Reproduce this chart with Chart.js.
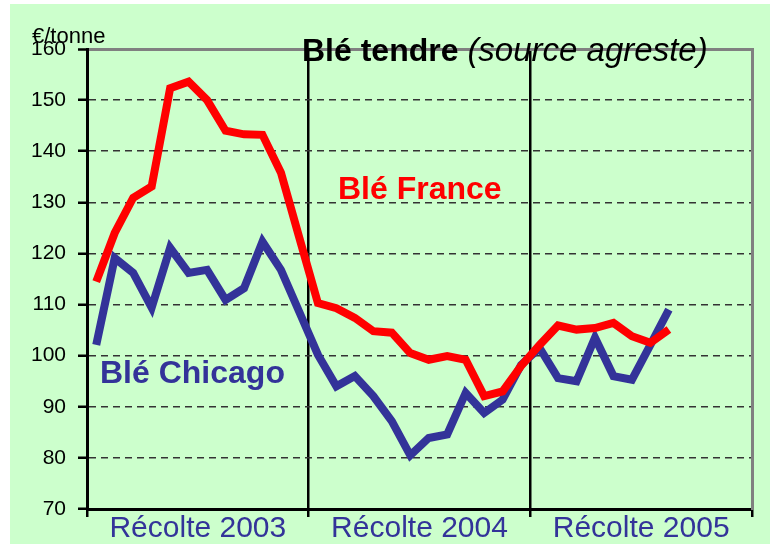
<!DOCTYPE html>
<html>
<head>
<meta charset="utf-8">
<script src="https://cdn.jsdelivr.net/npm/chart.js@4.4.1/dist/chart.umd.min.js"></script>
<style>
    body { margin: 0; background: #ffffff; }
    #bg { position: absolute; left: 10px; top: 4px; width: 760px; height: 540px; background: #CCFFCC; }
    #wheatChart { position: absolute; left: 0; top: 0; }
</style>
</head>
<body>
<div id="bg"></div>
<canvas id="wheatChart" width="774" height="544"></canvas>
<script>
// campagnes (juillet -> juin)
const harvests = ['Récolte 2003', 'Récolte 2004', 'Récolte 2005'];
const months = ['juil.', 'août', 'sept.', 'oct.', 'nov.', 'déc.', 'janv.', 'févr.', 'mars', 'avr.', 'mai', 'juin'];
const monthLabels = harvests.flatMap(h => months.map(m => m + ' ' + h.slice(-4)));

// €/tonne
const bleFrance = [114.5, 124, 130.9, 133.1, 152.3, 153.6, 150, 144, 143.3, 143.2, 135.8, 123,
    110.3, 109.3, 107.4, 104.8, 104.5, 100.5, 99.2, 99.9, 99.2, 92.1, 93, 98,
    102.1, 105.9, 105.1, 105.4, 106.4, 103.8, 102.5, 105.1];
const bleChicago = [102.1, 119.1, 116.2, 109.4, 121.1, 116.2, 116.8, 110.9, 113.2, 122.3, 116.8, 108.5,
    100.2, 94, 96, 92.1, 87.2, 80.5, 83.9, 84.6, 92.7, 88.8, 91.4, 98.2,
    101.5, 95.6, 95, 103.5, 96, 95.3, 102.1, 109];

const FONT = '"Liberation Sans", Arial, sans-serif';
const RED = '#FF0000';
const BLUE = '#333399';

Chart.defaults.font.family = FONT;

// texts drawn on top of the chart
const labelsPlugin = {
    id: 'labels',
    afterDraw(chart) {
        const ctx = chart.ctx;
        ctx.save();
        ctx.textBaseline = 'alphabetic';
        ctx.textAlign = 'left';

        ctx.fillStyle = '#000';
        ctx.font = '22px ' + FONT;
        ctx.fillText('€/tonne', 32, 43);

        ctx.font = 'bold 32px ' + FONT;
        const part1 = 'Blé tendre ';
        ctx.fillText(part1, 302, 61);
        const w = ctx.measureText(part1).width;
        ctx.font = 'italic 33px ' + FONT;
        ctx.fillText('(source agreste)', 302 + w, 61);

        ctx.font = 'bold 32px ' + FONT;
        ctx.fillStyle = RED;
        ctx.fillText('Blé France', 338, 199);
        ctx.fillStyle = BLUE;
        ctx.fillText('Blé Chicago', 100, 383);
        ctx.restore();
    }
};

const ctx = document.getElementById('wheatChart').getContext('2d');

new Chart(ctx, {
    type: 'line',
    data: {
        labels: monthLabels,
        datasets: [
            {
                label: 'Blé France',
                data: bleFrance,
                borderColor: RED,
                borderWidth: 8,
                pointRadius: 0,
                order: 0,
            },
            {
                label: 'Blé Chicago',
                data: bleChicago,
                borderColor: BLUE,
                borderWidth: 8,
                pointRadius: 0,
                order: 1,
            },
        ]
    },
    options: {
        responsive: false,
        animation: false,
        layout: { padding: { top: 49, left: 0, right: 0, bottom: 0 } },
        plugins: {
            legend: { display: false },
            tooltip: { enabled: false },
        },
        scales: {
            x: {
                type: 'category',
                offset: true,
                display: false,
            },
            x2: {
                type: 'category',
                axis: 'x',
                position: 'bottom',
                labels: harvests,
                offset: true,
                afterFit: s => { s.height = 35; },
                grid: {
                    offset: true,
                    color: c => c.index === undefined ? 'rgba(0,0,0,0)' : '#000',
                    tickColor: '#000',
                    lineWidth: 2.5,
                    tickLength: 8,
                },
                border: { color: '#000', width: 3 },
                ticks: {
                    color: BLUE,
                    font: { family: FONT, size: 30 },
                    padding: -6,
                    maxRotation: 0,
                },
            },
            y: {
                type: 'linear',
                position: 'left',
                min: 70,
                max: 160,
                afterFit: s => { s.width = 87; },
                ticks: {
                    stepSize: 10,
                    color: '#000',
                    font: { family: FONT, size: 21 },
                    padding: 12,
                },
                grid: {
                    color: c => c.tick && c.tick.value === 160 ? '#808080' : '#333',
                    lineWidth: c => c.tick && c.tick.value === 160 ? 3 : 1.5,
                    tickColor: '#000',
                    tickLength: 9,
                    tickWidth: 2.5,
                    tickBorderDash: [],
                },
                border: {
                    color: '#000',
                    width: 3,
                    dash: c => c.tick && c.tick.value !== 160 ? [7, 5] : [],
                },
            },
            yR: {
                type: 'linear',
                axis: 'y',
                position: 'right',
                min: 70,
                max: 160,
                afterFit: s => { s.width = 22; },
                ticks: { display: false },
                grid: { display: false },
                border: { color: '#808080', width: 3 },
            },
        },
    },
    plugins: [labelsPlugin],
});
</script>
</body>
</html>
